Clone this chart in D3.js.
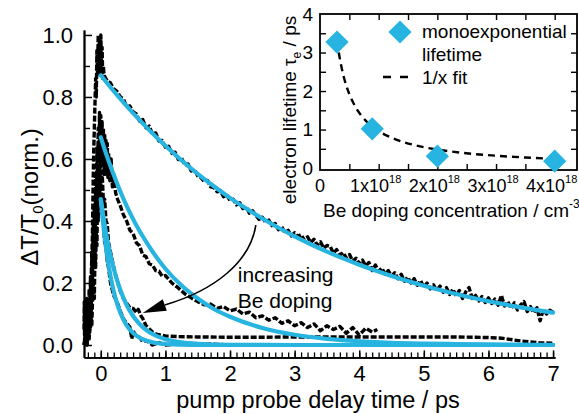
<!DOCTYPE html>
<html><head><meta charset="utf-8">
<script src="https://cdn.jsdelivr.net/npm/d3@7"></script>
<style>
body{margin:0;background:#fff;}
svg{display:block;font-family:"Liberation Sans",Arial,Helvetica,sans-serif;}
</style></head><body>
<svg id="c" width="579" height="414"></svg>
<script>
// ---------------- main chart data ----------------
const mainXTicks = [0, 1, 2, 3, 4, 5, 6, 7];
const mainYTicks = [0.0, 0.2, 0.4, 0.6, 0.8, 1.0];
const mainYTickLabels = ["0.0", "0.2", "0.4", "0.6", "0.8", "1.0"];

// slowest sample (tau ~3.3 ps): rising edge [t, value]
const s1Rise = [[-0.26,0.0],[-0.22,0.03],[-0.18,0.08],[-0.15,0.2],[-0.13,0.35],[-0.12,0.5],[-0.11,0.62],[-0.10,0.70],[-0.09,0.78],[-0.08,0.86],[-0.07,0.80],[-0.06,0.95],[-0.05,0.88],[-0.04,1.0],[-0.03,0.9],[-0.02,0.98],[-0.01,0.87],[0.0,1.0],[0.01,0.9],[0.02,0.96],[0.03,0.86],[0.04,0.9]];
// decay, sampled every 0.05 ps from 0.05 ps
const s1Start = 0.05, s1Step = 0.05;
const s1Decay = [
0.870,0.852,0.845,0.826,0.818,0.801,0.793,0.768,0.771,0.752,
0.745,0.722,0.727,0.700,0.706,0.680,0.684,0.658,0.660,0.638,
0.641,0.618,0.622,0.598,0.603,0.580,0.584,0.561,0.566,0.545,
0.540,0.528,0.531,0.510,0.508,0.494,0.498,0.478,0.484,0.466,
0.470,0.452,0.459,0.440,0.446,0.425,0.433,0.418,0.405,0.412,
0.396,0.403,0.385,0.392,0.372,0.381,0.362,0.370,0.352,0.362,
0.350,0.356,0.338,0.349,0.330,0.341,0.322,0.333,0.312,0.321,
0.318,0.296,0.308,0.290,0.298,0.281,0.292,0.270,0.280,0.262,
0.274,0.255,0.266,0.240,0.258,0.238,0.248,0.228,0.240,0.222,
0.233,0.214,0.228,0.206,0.219,0.200,0.214,0.193,0.208,0.186,
0.200,0.181,0.194,0.176,0.190,0.170,0.185,0.163,0.180,0.158,
0.176,0.150,0.172,0.185,0.150,0.160,0.142,0.156,0.137,0.152,
0.134,0.148,0.128,0.160,0.126,0.140,0.118,0.136,0.113,0.130,
0.140,0.108,0.124,0.104,0.120,0.078,0.115,0.100,0.112,0.106];

// second sample (tau ~1 ps) [t, value]
const s2Data = [[-0.26,0.0],[-0.22,0.02],[-0.18,0.06],[-0.15,0.14],[-0.13,0.24],[-0.11,0.36],[-0.10,0.45],[-0.09,0.40],[-0.08,0.55],[-0.07,0.46],[-0.06,0.64],[-0.05,0.52],[-0.04,0.70],[-0.03,0.56],[-0.02,0.75],[-0.01,0.60],[0.0,0.74],[0.01,0.58],[0.02,0.72],[0.03,0.57],[0.04,0.70],[0.05,0.55],[0.06,0.68],[0.07,0.56],[0.08,0.66],[0.09,0.55],[0.10,0.65],[0.11,0.54],[0.12,0.62],[0.14,0.53],[0.16,0.60],[0.18,0.51],[0.20,0.55],[0.23,0.49],[0.26,0.47],[0.30,0.45],[0.35,0.42],[0.40,0.40],[0.45,0.37],[0.50,0.36],[0.55,0.33],[0.60,0.32],[0.65,0.29],[0.70,0.285],[0.75,0.262],[0.80,0.258],[0.85,0.240],[0.90,0.238],[0.95,0.222],[1.00,0.224],[1.1,0.200],[1.2,0.184],[1.3,0.165],[1.4,0.152],[1.5,0.140],[1.6,0.130],[1.7,0.132],[1.8,0.118],[1.9,0.124],[2.0,0.110],[2.1,0.116],[2.2,0.100],[2.3,0.106],[2.4,0.088],[2.5,0.094],[2.6,0.080],[2.7,0.088],[2.8,0.070],[2.9,0.078],[3.0,0.062],[3.1,0.072],[3.2,0.056],[3.3,0.068],[3.4,0.046],[3.5,0.062],[3.6,0.050],[3.7,0.060],[3.8,0.038],[3.9,0.056],[4.0,0.032],[4.1,0.054],[4.2,0.042],[4.28,0.050]];

// third sample (tau ~0.31 ps) [t, value]
const s3Data = [[-0.26,0.0],[-0.24,0.03],[-0.22,0.0],[-0.20,0.06],[-0.18,0.02],[-0.16,0.10],[-0.14,0.06],[-0.12,0.20],[-0.10,0.15],[-0.09,0.30],[-0.08,0.25],[-0.07,0.38],[-0.06,0.32],[-0.05,0.48],[-0.04,0.40],[-0.03,0.55],[-0.02,0.47],[-0.01,0.60],[0.0,0.52],[0.02,0.56],[0.04,0.46],[0.06,0.47],[0.08,0.40],[0.10,0.39],[0.12,0.33],[0.15,0.30],[0.20,0.25],[0.25,0.21],[0.30,0.175],[0.35,0.15],[0.40,0.135],[0.45,0.12],[0.50,0.118],[0.55,0.105],[0.58,0.115],[0.62,0.095],[0.65,0.085],[0.70,0.062],[0.75,0.052],[0.80,0.042],[0.85,0.036],[0.90,0.033],[1.0,0.029],[1.2,0.027],[1.5,0.026],[2.0,0.025],[2.5,0.025],[3.0,0.026],[3.5,0.026],[4.0,0.026],[4.5,0.026],[5.0,0.026],[5.5,0.026],[6.0,0.024],[6.2,0.022],[6.5,0.013],[6.8,0.007],[7.0,0.006]];

// fourth sample (tau ~0.18 ps) [t, value]
const s4Data = [[-0.26,0.05],[-0.255,0.14],[-0.25,0.0],[-0.245,0.09],[-0.24,0.12],[-0.235,0.01],[-0.23,0.02],[-0.225,0.11],[-0.22,0.15],[-0.215,0.03],[-0.21,0.0],[-0.205,0.12],[-0.20,0.10],[-0.195,0.02],[-0.19,0.03],[-0.185,0.14],[-0.18,0.18],[-0.175,0.04],[-0.17,0.05],[-0.165,0.16],[-0.16,0.22],[-0.155,0.06],[-0.15,0.08],[-0.14,0.30],[-0.13,0.15],[-0.12,0.38],[-0.11,0.25],[-0.10,0.45],[-0.09,0.30],[-0.08,0.50],[-0.07,0.42],[-0.06,0.55],[-0.05,0.45],[-0.04,0.58],[-0.03,0.50],[-0.02,0.56],[-0.01,0.48],[0.0,0.52],[0.02,0.42],[0.04,0.40],[0.06,0.33],[0.08,0.32],[0.10,0.27],[0.12,0.25],[0.15,0.20],[0.20,0.16],[0.25,0.14],[0.30,0.11],[0.35,0.085],[0.40,0.07],[0.45,0.058],[0.48,0.02],[0.50,0.045],[0.55,0.03],[0.60,0.025],[0.65,0.01],[0.70,0.015],[0.80,0.0],[0.90,0.008],[1.0,0.0],[1.2,0.004],[1.4,0.0],[1.7,0.003],[2.0,0.0]];

// exponential fits (blue)
const fit1T = [0,0.25,0.5,0.75,1,1.25,1.5,1.75,2,2.25,2.5,2.75,3,3.25,3.5,3.75,4,4.25,4.5,4.75,5,5.25,5.5,5.75,6,6.25,6.5,6.75,7];
const fit1V = [0.870,0.8065,0.7477,0.6931,0.6426,0.5957,0.5522,0.5120,0.4746,0.4400,0.4079,0.3781,0.3505,0.3250,0.3013,0.2793,0.2589,0.2400,0.2225,0.2063,0.1912,0.1773,0.1643,0.1524,0.1412,0.1309,0.1214,0.1125,0.1043];
const fit2T = [0,0.1,0.2,0.3,0.4,0.5,0.75,1,1.25,1.5,1.75,2,2.5,3,3.5,4,4.5,5,5.5,6,6.5,7];
const fit2V = [0.670,0.606,0.549,0.496,0.449,0.406,0.317,0.246,0.192,0.150,0.116,0.091,0.055,0.033,0.020,0.012,0.007,0.0045,0.003,0.0017,0.001,0.0006];
const fit3T = [0,0.05,0.1,0.15,0.2,0.25,0.3,0.4,0.5,0.6,0.7,0.8,1.0,1.25,1.5,2,3,7];
const fit3V = [0.47,0.400,0.340,0.290,0.247,0.210,0.179,0.129,0.0937,0.0679,0.0492,0.0356,0.0187,0.0083,0.0037,0.0007,0,0];
const fit4T = [0,0.05,0.1,0.15,0.2,0.25,0.3,0.4,0.5,0.6,0.7,0.8,1.0,1.25,1.5,3,7];
const fit4V = [0.47,0.366,0.285,0.222,0.173,0.135,0.105,0.0636,0.0386,0.0234,0.0142,0.0086,0.0032,0.0009,0,0,0];

// annotation (data units)
const arrowPts = {start:[2.40,0.387], c1:[2.31,0.268], c2:[1.77,0.177], end:[0.99,0.129], tip:[0.65,0.103]};
const annoText = [{t:2.12, v:0.203, s:"increasing"}, {t:2.12, v:0.119, s:"Be doping"}];

// ---------------- inset data ----------------
const dopingConc = [0.29, 0.89, 2.0, 4.0];       // x 10^18 cm^-3
const lifetimeTau = [3.27, 1.02, 0.31, 0.18];    // ps
const invFitX = [0.29,0.32,0.36,0.4,0.45,0.5,0.6,0.7,0.8,0.9,1.0,1.2,1.4,1.6,1.8,2.0,2.5,3.0,3.5,4.0];
const invFitY = [3.31,3.0,2.67,2.4,2.13,1.92,1.6,1.37,1.2,1.07,0.96,0.8,0.686,0.6,0.533,0.48,0.384,0.32,0.274,0.24];
const insetXTicks = [0, 1, 2, 3, 4];
const insetXTickLabels = ["0", "1x10", "2x10", "3x10", "4x10"];
const insetXTickExp = ["", "18", "18", "18", "18"];
const insetYTicks = [0, 1, 2, 3, 4];

// ---------------- drawing ----------------
const BLUE = "#27b4e0";
const svg = d3.select("#c");

const x = d3.scaleLinear().domain([-0.26, 7.03]).range([84, 555]);
const y = d3.scaleLinear().domain([-0.04, 1.016]).range([357.4, 30]);

const line = d3.line().x(d => x(d[0])).y(d => y(d[1]));
const smooth = d3.line().x(d => x(d[0])).y(d => y(d[1])).curve(d3.curveMonotoneX);

const s1All = s1Rise.concat(s1Decay.map((v, i) => [s1Start + i * s1Step, v]));
const dataSeries = [s1All, s2Data, s3Data, s4Data];

const gData = svg.append("g");
dataSeries.forEach(s => {
  gData.append("path").attr("d", line(s))
    .attr("fill", "none").attr("stroke", "#000").attr("stroke-width", 3.4)
    .attr("stroke-dasharray", "6,2").attr("stroke-linejoin", "round");
});

const fits = [[fit1T, fit1V], [fit2T, fit2V], [fit3T, fit3V], [fit4T, fit4V]];
fits.forEach(([T, V]) => {
  svg.append("path").attr("d", smooth(T.map((t, i) => [t, V[i]])))
    .attr("fill", "none").attr("stroke", BLUE).attr("stroke-width", 4.2)
    .attr("stroke-linecap", "round");
});

// main axes
const axStroke = 1.8;
const gx = svg.append("g").attr("transform", `translate(0,${y(-0.04)})`);
gx.call(d3.axisBottom(x).tickValues(d3.range(-2, 71).map(k => k / 10)).tickSizeInner(-5).tickSizeOuter(0).tickFormat(""));
gx.call(g => g.selectAll(".tick line").attr("stroke-width", 1.3));
const gx2 = svg.append("g").attr("transform", `translate(0,${y(-0.04)})`);
gx2.call(d3.axisBottom(x).tickValues(mainXTicks).tickSizeInner(-7).tickSizeOuter(0).tickPadding(8).tickFormat(d3.format("d")));
gx2.selectAll(".tick line").attr("stroke-width", 1.5);
gx2.selectAll("text").attr("font-size", 22).attr("font-family", "Liberation Sans, Arial, sans-serif");
[gx, gx2].forEach(g => g.select(".domain").attr("stroke-width", axStroke));

const gy = svg.append("g").attr("transform", `translate(${x(-0.26)},0)`);
gy.call(d3.axisLeft(y).tickValues([0.1,0.3,0.5,0.7,0.9]).tickSizeInner(-6).tickSizeOuter(0).tickFormat(""));
gy.selectAll(".tick line").attr("stroke-width", 1.4);
const gy2 = svg.append("g").attr("transform", `translate(${x(-0.26)},0)`);
gy2.call(d3.axisLeft(y).tickValues(mainYTicks).tickSizeInner(-8).tickSizeOuter(0).tickPadding(11).tickFormat((d, i) => mainYTickLabels[i]));
gy2.selectAll(".tick line").attr("stroke-width", 1.5);
gy2.selectAll("text").attr("font-size", 22).attr("font-family", "Liberation Sans, Arial, sans-serif");
[gy, gy2].forEach(g => g.select(".domain").attr("stroke-width", axStroke));

// axis titles
svg.append("text").attr("x", 318).attr("y", 407.5).attr("text-anchor", "middle")
  .attr("font-size", 23.5).text("pump probe delay time / ps");
const yl = svg.append("text").attr("transform", "translate(38,197) rotate(-90)")
  .attr("text-anchor", "middle").attr("font-size", 24);
yl.append("tspan").text("\u0394T/T");
yl.append("tspan").attr("font-size", 15).attr("dy", 5).text("0");
yl.append("tspan").attr("dy", -5).text("(norm.)");

// arrow annotation
const P = p => [x(p[0]), y(p[1])];
const s = P(arrowPts.start), c1 = P(arrowPts.c1), c2 = P(arrowPts.c2), e = P(arrowPts.end), tp = P(arrowPts.tip);
const ap = d3.path();
ap.moveTo(s[0], s[1]); ap.bezierCurveTo(c1[0], c1[1], c2[0], c2[1], e[0], e[1]);
svg.append("path").attr("d", ap.toString()).attr("fill", "none").attr("stroke", "#000").attr("stroke-width", 1.6);
const dx = tp[0] - e[0], dy = tp[1] - e[1], L = Math.hypot(dx, dy);
const nx = -dy / L * 6, ny = dx / L * 6;
svg.append("path").attr("d", `M${tp[0]},${tp[1]}L${e[0] + nx},${e[1] + ny}L${e[0] - nx},${e[1] - ny}Z`).attr("fill", "#000");
annoText.forEach(a => svg.append("text").attr("x", x(a.t)).attr("y", y(a.v)).attr("font-size", 21).text(a.s));

// ---------------- inset ----------------
const ix = d3.scaleLinear().domain([0, 4.38]).range([320, 577]);
const iy = d3.scaleLinear().domain([-0.05, 4]).range([170, 14]);
const gi = svg.append("g");
const ticksX = d3.range(1, 9).map(k => k / 2);
const ticksY = d3.range(1, 8).map(k => k / 2);
const mkAxis = (g, ax) => { g.call(ax); g.select(".domain").remove(); g.selectAll(".tick line").attr("stroke-width", 1.4); };
mkAxis(gi.append("g").attr("transform", `translate(0,170)`), d3.axisBottom(ix).tickValues(ticksX).tickSizeInner(-6).tickFormat(""));
mkAxis(gi.append("g").attr("transform", `translate(0,14)`), d3.axisTop(ix).tickValues(ticksX).tickSizeInner(-6).tickFormat(""));
mkAxis(gi.append("g").attr("transform", `translate(320,0)`), d3.axisLeft(iy).tickValues(ticksY).tickSizeInner(-6).tickFormat(""));
mkAxis(gi.append("g").attr("transform", `translate(577,0)`), d3.axisRight(iy).tickValues(ticksY).tickSizeInner(-6).tickFormat(""));
gi.append("rect").attr("x", 320).attr("y", 14).attr("width", 257).attr("height", 156)
  .attr("fill", "none").attr("stroke", "#000").attr("stroke-width", 1.8);

// inset tick labels
insetXTicks.forEach((v, i) => {
  const t = gi.append("text").attr("x", ix(v) - (insetXTickExp[i] ? 3 : 0)).attr("y", 192).attr("text-anchor", "middle").attr("font-size", 18);
  t.append("tspan").text(insetXTickLabels[i]);
  if (insetXTickExp[i]) t.append("tspan").attr("font-size", 11).attr("dy", -9).text(insetXTickExp[i]);
});
insetYTicks.forEach(v => {
  gi.append("text").attr("x", 313).attr("y", iy(v)).attr("dy", "0.35em").attr("text-anchor", "end").attr("font-size", 19).text(v);
});

// inset fit + points
gi.append("path").attr("d", d3.line().x(d => ix(d[0])).y(d => iy(d[1])).curve(d3.curveMonotoneX)(invFitX.map((v, i) => [v, invFitY[i]])))
  .attr("fill", "none").attr("stroke", "#000").attr("stroke-width", 2.4).attr("stroke-dasharray", "7,5");
const diamond = d3.symbol(d3.symbolSquare, 270);
gi.selectAll(".pt").data(dopingConc).join("path")
  .attr("d", diamond).attr("fill", BLUE)
  .attr("transform", (d, i) => `translate(${ix(d)},${iy(lifetimeTau[i])}) rotate(45)`);

// inset legend
gi.append("path").attr("d", diamond).attr("fill", BLUE).attr("transform", "translate(400,32) rotate(45)");
gi.append("text").attr("x", 422).attr("y", 38).attr("font-size", 19).text("monoexponential");
gi.append("text").attr("x", 422).attr("y", 61).attr("font-size", 19).text("lifetime");
gi.append("line").attr("x1", 383).attr("x2", 408).attr("y1", 77).attr("y2", 77)
  .attr("stroke", "#000").attr("stroke-width", 2.4).attr("stroke-dasharray", "8,9");
gi.append("text").attr("x", 422).attr("y", 84).attr("font-size", 19).text("1/x fit");

// inset axis titles
const ixl = gi.append("text").attr("x", 323).attr("y", 217).attr("font-size", 19);
ixl.append("tspan").text("Be doping concentration / cm");
ixl.append("tspan").attr("font-size", 12).attr("dy", -9).text("-3");
const iyl = gi.append("text").attr("transform", "translate(296,110) rotate(-90)").attr("text-anchor", "middle").attr("font-size", 19);
iyl.append("tspan").text("electron lifetime \u03c4");
iyl.append("tspan").attr("font-size", 12).attr("dy", 5).text("e");
iyl.append("tspan").attr("dy", -5).text(" / ps");
</script>
</body></html>
